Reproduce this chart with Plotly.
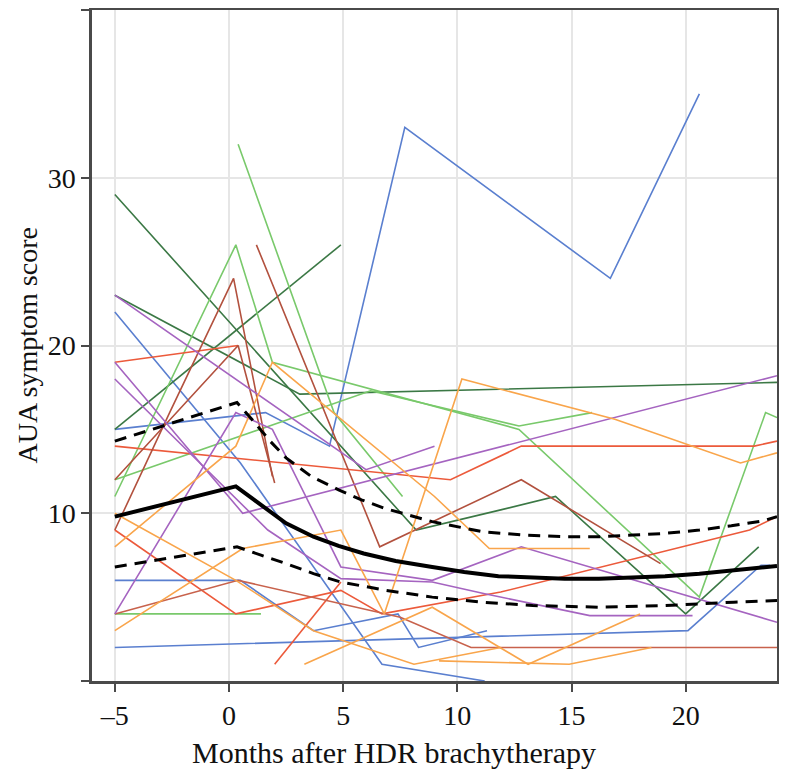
import plotly.graph_objects as go

# ---- axis ticks ----
x_tick_vals = [-5, 0, 5, 10, 15, 20]
x_tick_text = ["\u20135", "0", "5", "10", "15", "20"]
y_tick_vals = [0, 10, 20, 30, 40]
y_tick_text = ["", "10", "20", "30", ""]

# ---- individual patients (months, AUA score) ----
p01_x = [-5, 0.4, 1.6, 4.4, 7.7, 16.7, 20.6]; p01_y = [15, 15.8, 16, 14, 33, 24, 35]
p02_x = [-5, 0.5, 6.7, 11.2];                 p02_y = [22, 13, 1, 0]
p03_x = [-5, 0.5, 3.7, 7.4, 8.3, 11.3];       p03_y = [6, 6, 3, 4, 2, 3]
p04_x = [-5, 20.1, 23.3, 23.7];               p04_y = [2, 3, 6.9, 6.9]
p05_x = [-5, 8.2, 11.9, 14.3, 20.0, 23.2];    p05_y = [29, 9, 10.2, 11, 4, 8]
p06_x = [-5, 4.9];                            p06_y = [15, 26]
p07_x = [-5, 3.1, 24];                        p07_y = [23, 17.1, 17.8]
p08_x = [0.4, 4.6, 7.6];                      p08_y = [32, 16, 11]
p09_x = [-5, 0.3, 1.9, 12.7, 20.6, 23.5, 24]; p09_y = [11, 26, 19, 15, 5, 16, 15.7]
p10_x = [-5, 6.2, 12.7, 15.9];                p10_y = [12, 17.3, 15.2, 16]
p11_x = [-5, 1.4];                            p11_y = [4, 4]
p12_x = [-5, 0.4];                            p12_y = [19, 20]
p13_x = [-5, 9.7, 12.8, 23, 24];              p13_y = [14, 12, 14, 14, 14.3]
p14_x = [-5, 0.3, 4.9, 6.7, 11.9, 22.8, 24];  p14_y = [9, 4, 5.4, 4, 5.3, 9, 9.8]
p15_x = [2.0, 4.9];                           p15_y = [1, 5.9]
p16_x = [-5, -2.6, 0.2, 1.9];                 p16_y = [9, 16, 24, 12.2]
p17_x = [1.2, 6.6, 12.8, 18.9];               p17_y = [26, 8, 12, 7]
p18_x = [-5, 0.4, 2.0];                       p18_y = [12, 20, 11.8]
p19_x = [-5, 0.4, 7.5, 10.6, 24];             p19_y = [4, 6, 3.8, 2, 2]
p20_x = [-5, 6.0, 9.0];                       p20_y = [23, 12.6, 14]
p21_x = [-5, 0.6, 24];                        p21_y = [19, 10, 18.2]
p22_x = [-5, 1.7, 4.9, 8.9, 11.2, 15.8, 20.3]; p22_y = [18, 9, 6.1, 5.9, 5.2, 3.9, 3.9]
p23_x = [-5, 0.3, 1.9, 4.9, 8.9, 12.8, 24];   p23_y = [4, 16, 15, 6.8, 6.0, 8, 3.5]
p24_x = [-5, 0.6, 4.9, 6.8, 10.2, 16.9, 22.4, 24]; p24_y = [3, 7.9, 9, 4, 18, 15.6, 13, 13.6]
p25_x = [-5, 0.3, 3.7, 8.1, 11.9];            p25_y = [10, 6, 3, 1, 2]
p26_x = [-5, 0.3, 1.9, 9.0, 11.4, 15.8];      p26_y = [8, 14, 19, 11, 7.9, 7.9]
p27_x = [3.3, 8.9, 13.1, 18.0];               p27_y = [1, 4.4, 1, 4]
p28_x = [9.2, 14.9, 18.5];                    p28_y = [1.2, 1, 2]

# ---- model fit (mean and confidence band) ----
fit_x = [-5, 0.3, 1.0, 1.7, 2.5, 3.7, 4.8, 5.9, 7.3, 8.9, 10.3, 11.8, 13.2, 14.7, 16.2, 17.7, 19.1, 20.6, 22.3, 24]
fit_mean = [9.8, 11.6, 10.9, 10.2, 9.4, 8.6, 8.05, 7.6, 7.15, 6.8, 6.5, 6.25, 6.15, 6.1, 6.1, 6.15, 6.25, 6.4, 6.6, 6.85]
upper_x = [-5, 0.35, 1.0, 1.8, 2.5, 3.6, 4.8, 5.8, 6.8, 8.9, 11.1, 12.9, 14.7, 16.2, 17.7, 19.1, 20.6, 22.0, 23.4, 24]
upper_y = [14.3, 16.6, 15.6, 14.3, 13.3, 12.2, 11.4, 10.8, 10.3, 9.5, 8.9, 8.7, 8.6, 8.6, 8.7, 8.8, 9.0, 9.25, 9.55, 9.8]
lower_x = [-5, 0.35, 1.4, 2.5, 3.7, 4.9, 6.9, 8.9, 11.1, 13.3, 16.2, 19.1, 22.1, 24]
lower_y = [6.8, 8.0, 7.5, 7.0, 6.4, 5.9, 5.4, 5.0, 4.7, 4.5, 4.4, 4.5, 4.7, 4.8]

BLUE = "#5a7fcf"
DKGREEN = "#3b7845"
LTGREEN = "#79c96b"
RED = "#ec5a3b"
BROWN = "#b2513e"
SALMON = "#c8624c"
PURPLE = "#a564c0"
ORANGE = "#f9a54b"

patients = [
    (p01_x, p01_y, BLUE), (p02_x, p02_y, BLUE), (p03_x, p03_y, BLUE), (p04_x, p04_y, BLUE),
    (p05_x, p05_y, DKGREEN), (p06_x, p06_y, DKGREEN), (p07_x, p07_y, DKGREEN),
    (p08_x, p08_y, LTGREEN), (p09_x, p09_y, LTGREEN), (p10_x, p10_y, LTGREEN), (p11_x, p11_y, LTGREEN),
    (p12_x, p12_y, RED), (p13_x, p13_y, RED), (p14_x, p14_y, RED), (p15_x, p15_y, RED),
    (p16_x, p16_y, BROWN), (p17_x, p17_y, BROWN), (p18_x, p18_y, BROWN), (p19_x, p19_y, SALMON),
    (p20_x, p20_y, PURPLE), (p21_x, p21_y, PURPLE), (p22_x, p22_y, PURPLE), (p23_x, p23_y, PURPLE),
    (p24_x, p24_y, ORANGE), (p25_x, p25_y, ORANGE), (p26_x, p26_y, ORANGE), (p27_x, p27_y, ORANGE),
    (p28_x, p28_y, ORANGE),
]

fig = go.Figure()
for px, py, col in patients:
    fig.add_trace(go.Scatter(x=px, y=py, mode="lines", line=dict(color=col, width=1.6),
                             showlegend=False, hoverinfo="skip"))

fig.add_trace(go.Scatter(x=upper_x, y=upper_y, mode="lines",
                         line=dict(color="black", width=3, dash="12px,8px"),
                         showlegend=False, hoverinfo="skip"))
fig.add_trace(go.Scatter(x=lower_x, y=lower_y, mode="lines",
                         line=dict(color="black", width=3, dash="12px,8px"),
                         showlegend=False, hoverinfo="skip"))
fig.add_trace(go.Scatter(x=fit_x, y=fit_mean, mode="lines",
                         line=dict(color="black", width=4),
                         showlegend=False, hoverinfo="skip"))

FONT = "Liberation Serif"
AXCOL = "#4a4a4a"
common = dict(showgrid=True, gridcolor="#e6e6e6", gridwidth=1.5, zeroline=False,
              showline=True, linecolor=AXCOL, linewidth=2.5, mirror="allticks",
              ticks="outside", ticklen=8, tickwidth=2, tickcolor=AXCOL, automargin=False,
              tickfont=dict(family=FONT, size=28, color="#111111"))

# page body has an 8px margin, so the figure is sized/positioned to compensate
fig.update_layout(
    width=779, height=761,
    margin=dict(l=84, r=10, t=2, b=88),
    plot_bgcolor="white", paper_bgcolor="white",
    xaxis=dict(range=[-6, 24], tickmode="array", tickvals=x_tick_vals, ticktext=x_tick_text, **common),
    yaxis=dict(range=[0, 40], tickmode="array", tickvals=y_tick_vals, ticktext=y_tick_text, **common),
    annotations=[
        dict(text="Months after HDR brachytherapy", xref="paper", yref="paper",
             x=(385.5 - 84) / 685, y=-0.106, xanchor="center", yanchor="middle",
             showarrow=False, font=dict(family=FONT, size=30, color="#111111")),
        dict(text="AUA symptom score", xref="paper", yref="paper",
             x=(19 - 84) / 685, y=0.5, xanchor="center", yanchor="middle", textangle=-90,
             showarrow=False, borderpad=0, font=dict(family=FONT, size=28, color="#111111")),
    ],
)

fig.write_html("out.html")
